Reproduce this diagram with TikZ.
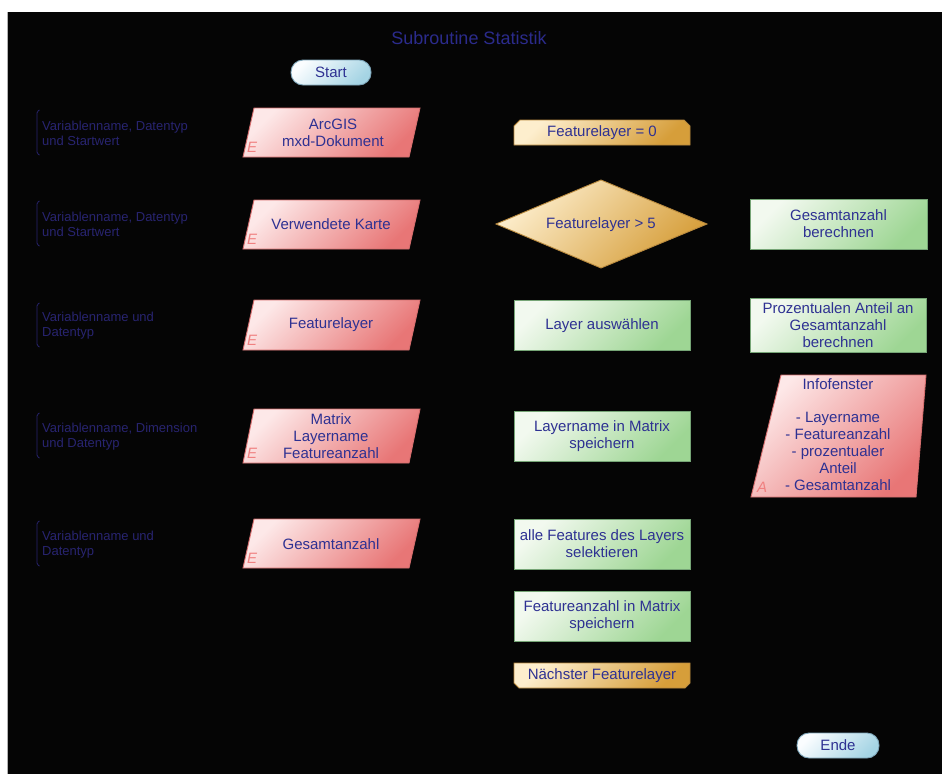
\documentclass[tikz,border=0pt]{standalone}
\usepackage{fontspec}
\setmainfont{Liberation Sans}
\definecolor{labelblue}{RGB}{40,36,112}
\definecolor{textblue}{RGB}{46,49,146}
\definecolor{titleblue}{RGB}{43,43,140}
\definecolor{redlight}{RGB}{253,232,232}
\definecolor{reddark}{RGB}{232,118,118}
\definecolor{redline}{RGB}{214,110,110}
\definecolor{greenlight}{RGB}{242,249,239}
\definecolor{greendark}{RGB}{158,214,148}
\definecolor{greenline}{RGB}{118,165,118}
\definecolor{orangelight}{RGB}{253,238,205}
\definecolor{orangedark}{RGB}{214,158,58}
\definecolor{orangeline}{RGB}{185,138,62}
\definecolor{pilllight}{RGB}{250,253,255}
\definecolor{pilldark}{RGB}{165,212,228}
\definecolor{pillline}{RGB}{125,165,185}
\definecolor{eletter}{RGB}{240,128,128}
\tikzset{
  redshape/.style={draw=redline, line width=0.9pt, top color=redlight, bottom color=reddark, shading angle=45},
  greenshape/.style={draw=greenline, line width=0.9pt, top color=greenlight, bottom color=greendark, shading angle=45},
  orangeshape/.style={draw=orangeline, line width=0.9pt, top color=orangelight, bottom color=orangedark, shading angle=45},
  pillshape/.style={draw=pillline, line width=0.9pt, top color=pilllight, bottom color=pilldark, shading angle=45, rounded corners=12pt},
  boxtext/.style={text=textblue, font=\fontsize{15}{17}\selectfont, align=center, inner sep=0pt},
  labeltext/.style={text=labelblue, font=\fontsize{13}{15}\selectfont, align=left, anchor=west, inner sep=0pt},
  bracketline/.style={draw=labelblue, line width=0.8pt, rounded corners=1.5pt},
  elabel/.style={text=eletter, font=\fontsize{15}{15}\selectfont\itshape, inner sep=0pt},
}
\begin{document}
\begin{tikzpicture}[x=1pt,y=-1pt]
\useasboundingbox (0,0) rectangle (942,774);
\fill[white] (0,0) rectangle (942,774);
\fill[black!98] (7,12) rectangle (942,774);
\draw[gray!60, line width=0.8pt] (7,12) -- (7,774);

% title
\node[text=titleblue, font=\fontsize{18}{20}\selectfont, inner sep=0pt] (title) at (469,38) {Subroutine Statistik};

% start / end
\shade[pillshape] (291,60) rectangle (371,85);
\node[boxtext] (start) at (331,72.5) {Start};
\shade[pillshape] (797,733) rectangle (879,758);
\node[boxtext] (ende) at (838,745.5) {Ende};

% left labels
\foreach \t/\b/\name/\txt in {
  110/155/lab1/{Variablenname, Datentyp\\und Startwert},
  201/246/lab2/{Variablenname, Datentyp\\und Startwert},
  303/347/lab3/{Variablenname und\\Datentyp},
  413/458/lab4/{Variablenname, Dimension\\und Datentyp},
  521/566/lab5/{Variablenname und\\Datentyp}}{
  \draw[bracketline] (39.5,\t) -- (37,\t+1.5) -- (37,\b-1.5) -- (39.5,\b);
}
\node[labeltext] (lab1) at (42,133.5) {Variablenname, Datentyp\\und Startwert};
\node[labeltext] (lab2) at (42,224.5) {Variablenname, Datentyp\\und Startwert};
\node[labeltext] (lab3) at (42,325.5) {Variablenname und\\Datentyp};
\node[labeltext] (lab4) at (42,436.5) {Variablenname, Dimension\\und Datentyp};
\node[labeltext] (lab5) at (42,544.5) {Variablenname und\\Datentyp};

% red parallelograms (left column)
\foreach \t/\b in {108/157, 200/249, 300/350, 409/463, 519/568}{
  \shade[redshape] (254,\t) -- (420,\t) -- (409,\b) -- (243,\b) -- cycle;
  \node[elabel] at (252,\b-10) {E};
}
\node[boxtext] (arcgis) at (333,132.5) {ArcGIS\\mxd-Dokument};
\node[boxtext] (karte) at (331,224.5) {Verwendete Karte};
\node[boxtext] (flayer) at (331,325) {Featurelayer};
\node[boxtext] (matrix) at (331,436) {Matrix\\Layername\\Featureanzahl};
\node[boxtext] (gesamt) at (331,544) {Gesamtanzahl};

% middle column
\shade[orangeshape] (514,145) -- (514,126) -- (520,120) -- (684,120) -- (690,126) -- (690,145) -- cycle;
\node[boxtext] (fl0) at (602,133) {Featurelayer = 0};
\shade[orangeshape] (496,224) -- (601,180) -- (707,224) -- (601,268) -- cycle;
\node[boxtext] (fl5) at (601,224.5) {Featurelayer > 5};
\shade[greenshape] (514,300) rectangle (690,350);
\node[boxtext] (layer) at (602,325.5) {Layer auswählen};
\shade[greenshape] (514,411) rectangle (690,461);
\node[boxtext] (lname) at (602,436) {Layername in Matrix\\speichern};
\shade[greenshape] (514,519) rectangle (690,569);
\node[boxtext] (alle) at (602,544) {alle Features des Layers\\selektieren};
\shade[greenshape] (514,591) rectangle (690,641);
\node[boxtext] (fanz) at (602,616) {Featureanzahl in Matrix\\speichern};
\shade[orangeshape] (514,663) -- (690,663) -- (690,683) -- (685,688) -- (519,688) -- (514,683) -- cycle;
\node[boxtext] (next) at (602,675.5) {Nächster Featurelayer};

% right column
\shade[greenshape] (750,199) rectangle (927,249);
\node[boxtext] (gber) at (838.5,224) {Gesamtanzahl\\berechnen};
\shade[greenshape] (750,298) rectangle (926,352);
\node[boxtext] (proz) at (838,325) {Prozentualen Anteil an\\Gesamtanzahl\\berechnen};
\shade[redshape] (781,375) -- (926,375) -- (916,497) -- (751,497) -- cycle;
\node[elabel] at (762,487) {A};
\node[boxtext, anchor=north] (info) at (838,378) {Infofenster\\[16.5pt]- Layername\\- Featureanzahl\\- prozentualer\\Anteil\\- Gesamtanzahl};
\end{tikzpicture}
\end{document}
